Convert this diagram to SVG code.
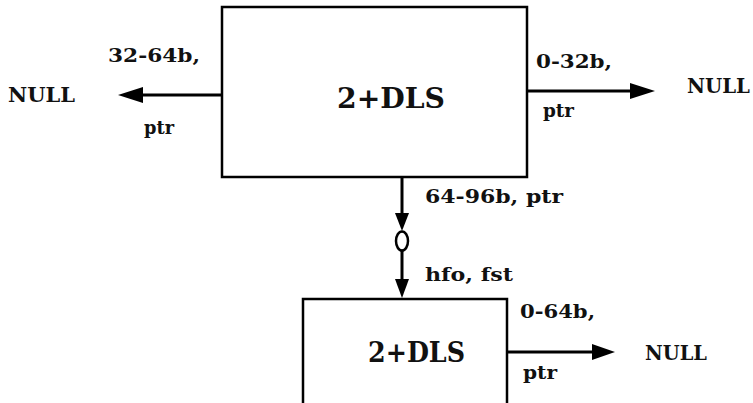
<svg xmlns="http://www.w3.org/2000/svg" width="753" height="403" viewBox="0 0 753 403">
<style>
.box{fill:#fff;stroke:#000;stroke-width:2.5}
.ln{stroke:#000;stroke-width:3;fill:none}
.hd{fill:#000}
text{font-family:"DejaVu Serif","Liberation Serif",serif;font-weight:bold;fill:#111}
.t{font-size:19px}
.n{font-size:21px}
.big{font-size:28px}
</style>
<rect width="753" height="403" fill="#fff"/>
<g id="node-top">
<rect class="box" x="222" y="7" width="305" height="170"/>
<text class="big" x="337" y="108" textLength="108" lengthAdjust="spacingAndGlyphs">2+DLS</text>
</g>
<g id="node-bottom">
<rect class="box" x="303" y="299" width="204" height="110"/>
<text class="big" x="368" y="362" textLength="97" lengthAdjust="spacingAndGlyphs">2+DLS</text>
</g>
<g id="null-left"><text class="n" x="8" y="102" textLength="67" lengthAdjust="spacingAndGlyphs">NULL</text></g>
<g id="null-right"><text class="n" x="687" y="93" textLength="63" lengthAdjust="spacingAndGlyphs">NULL</text></g>
<g id="null-bottom"><text class="n" x="645" y="360" textLength="62" lengthAdjust="spacingAndGlyphs">NULL</text></g>
<g id="connectors">
<line class="ln" x1="222" y1="95" x2="140" y2="95"/>
<polygon class="hd" points="118,95 143,87 143,103"/>
<line class="ln" x1="527" y1="91" x2="632" y2="91"/>
<polygon class="hd" points="655,91 630,83 630,99"/>
<line class="ln" x1="507" y1="352" x2="595" y2="352"/>
<polygon class="hd" points="615,352 592,344 592,360"/>
<line class="ln" x1="402" y1="177" x2="402" y2="215"/>
<polygon class="hd" points="402,231 395,213 409,213"/>
<ellipse cx="402" cy="241" rx="6" ry="9.5" fill="#fff" stroke="#000" stroke-width="2.5"/>
<line class="ln" x1="402" y1="251" x2="402" y2="282"/>
<polygon class="hd" points="402,298 395,279 409,279"/>
<text class="t" x="108" y="62" textLength="92" lengthAdjust="spacingAndGlyphs">32-64b,</text>
<text class="t" x="144" y="134" textLength="30" lengthAdjust="spacingAndGlyphs">ptr</text>
<text class="t" x="536" y="68" textLength="76" lengthAdjust="spacingAndGlyphs">0-32b,</text>
<text class="t" x="543" y="117" textLength="31" lengthAdjust="spacingAndGlyphs">ptr</text>
<text class="t" x="425" y="203" textLength="138" lengthAdjust="spacingAndGlyphs">64-96b, ptr</text>
<text class="t" x="425" y="281" textLength="88" lengthAdjust="spacingAndGlyphs">hfo, fst</text>
<text class="t" x="520" y="318" textLength="75" lengthAdjust="spacingAndGlyphs">0-64b,</text>
<text class="t" x="523" y="379" textLength="34" lengthAdjust="spacingAndGlyphs">ptr</text>
</g>
</svg>
